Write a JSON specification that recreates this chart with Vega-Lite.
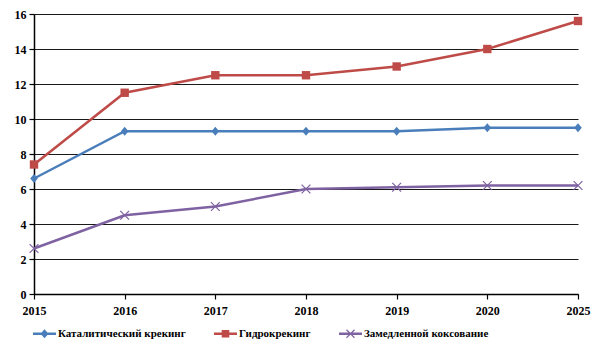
{
  "$schema": "https://vega.github.io/schema/vega-lite/v6.json",
  "width": 544,
  "height": 280,
  "autosize": "none",
  "padding": {"left": 34, "top": 14, "right": 22, "bottom": 59},
  "background": "white",
  "config": {
    "font": "Liberation Serif",
    "view": {"stroke": null},
    "axis": {"labelFont": "Liberation Serif"},
    "legend": {"labelFont": "Liberation Serif"}
  },
  "data": {"values": [
    {"year": "2015", "series": "Каталитический крекинг", "value": 6.6},
    {"year": "2016", "series": "Каталитический крекинг", "value": 9.3},
    {"year": "2017", "series": "Каталитический крекинг", "value": 9.3},
    {"year": "2018", "series": "Каталитический крекинг", "value": 9.3},
    {"year": "2019", "series": "Каталитический крекинг", "value": 9.3},
    {"year": "2020", "series": "Каталитический крекинг", "value": 9.5},
    {"year": "2025", "series": "Каталитический крекинг", "value": 9.5},
    {"year": "2015", "series": "Гидрокрекинг", "value": 7.4},
    {"year": "2016", "series": "Гидрокрекинг", "value": 11.5},
    {"year": "2017", "series": "Гидрокрекинг", "value": 12.5},
    {"year": "2018", "series": "Гидрокрекинг", "value": 12.5},
    {"year": "2019", "series": "Гидрокрекинг", "value": 13.0},
    {"year": "2020", "series": "Гидрокрекинг", "value": 14.0},
    {"year": "2025", "series": "Гидрокрекинг", "value": 15.6},
    {"year": "2015", "series": "Замедленной коксование", "value": 2.6},
    {"year": "2016", "series": "Замедленной коксование", "value": 4.5},
    {"year": "2017", "series": "Замедленной коксование", "value": 5.0},
    {"year": "2018", "series": "Замедленной коксование", "value": 6.0},
    {"year": "2019", "series": "Замедленной коксование", "value": 6.1},
    {"year": "2020", "series": "Замедленной коксование", "value": 6.2},
    {"year": "2025", "series": "Замедленной коксование", "value": 6.2}
  ]},
  "encoding": {
    "x": {
      "field": "year", "type": "ordinal",
      "scale": {"type": "point", "padding": 0},
      "axis": {
        "title": null, "labelAngle": 0, "labelFont": "Liberation Serif", "labelFontWeight": "bold", "labelFontSize": 12,
        "labelColor": "#000", "domainColor": "#000", "domainWidth": 1.5,
        "tickColor": "#000", "tickSize": 5, "tickWidth": 1.2, "grid": false, "labelPadding": 6
      }
    },
    "y": {
      "field": "value", "type": "quantitative",
      "scale": {"domain": [0, 16]},
      "axis": {
        "title": null, "values": [0, 2, 4, 6, 8, 10, 12, 14, 16],
        "grid": true, "gridColor": "#1a1a1a", "gridWidth": 1.2,
        "labelFont": "Liberation Serif", "labelFontWeight": "bold", "labelFontSize": 12, "labelColor": "#000",
        "domainColor": "#000", "domainWidth": 1.5, "tickColor": "#000",
        "tickSize": 5, "tickWidth": 1.2, "labelPadding": 3
      }
    },
    "color": {
      "field": "series", "type": "nominal",
      "scale": {
        "domain": ["Каталитический крекинг", "Гидрокрекинг", "Замедленной коксование"],
        "range": ["#4a7ebb", "#be4b48", "#7e62a1"]
      },
      "legend": null
    }
  },
  "layer": [
    {"mark": {"type": "line", "strokeWidth": 2.5}},
    {
      "mark": {"type": "point", "filled": true, "opacity": 1},
      "encoding": {
        "shape": {
          "field": "series", "type": "nominal",
          "scale": {
            "domain": ["Каталитический крекинг", "Гидрокрекинг", "Замедленной коксование"],
            "range": [
              "M0,-1.15L0.95,0L0,1.15L-0.95,0Z",
              "M-1.05,-1.05H1.05V1.05H-1.05Z",
              "M-0.994,-1.206L1.206,0.994L0.994,1.206L-1.206,-0.994Z M-1.206,0.994L0.994,-1.206L1.206,-0.994L-0.994,1.206Z"
            ]
          },
          "legend": null
        },
        "size": {"value": 64}
      }
    },
    {
      "transform": [{"filter": "false"}],
      "mark": {"type": "point", "filled": true, "opacity": 1},
      "encoding": {
        "shape": {
          "field": "series", "type": "nominal",
          "scale": {
            "domain": ["Каталитический крекинг", "Гидрокрекинг", "Замедленной коксование"],
            "range": [
              "M-1,-0.11H1V0.11H-1Z M0,-0.4L0.35,0L0,0.4L-0.35,0Z",
              "M-1,-0.11H1V0.11H-1Z M-0.33,-0.33H0.33V0.33H-0.33Z",
              "M-1,-0.11H1V0.11H-1Z M-0.315,-0.385L0.385,0.315L0.315,0.385L-0.385,-0.315Z M-0.385,0.315L0.315,-0.385L0.385,-0.315L-0.315,0.385Z"
            ]
          },
          "legend": {
            "title": null, "orient": "none", "legendX": -1, "legendY": 308,
            "direction": "horizontal", "symbolSize": 529, "symbolStrokeWidth": 0,
            "symbolFillColor": {"expr": "datum.value === 'Гидрокрекинг' ? '#be4b48' : (datum.value === 'Замедленной коксование' ? '#7e62a1' : '#4a7ebb')"},
            "labelFont": "Liberation Serif", "labelFontWeight": "bold", "labelFontSize": 11,
            "labelColor": "#000", "labelOffset": 2, "columnPadding": 28, "labelLimit": 300
          }
        }
      }
    }
  ],
  "resolve": {"scale": {"shape": "independent"}}
}
